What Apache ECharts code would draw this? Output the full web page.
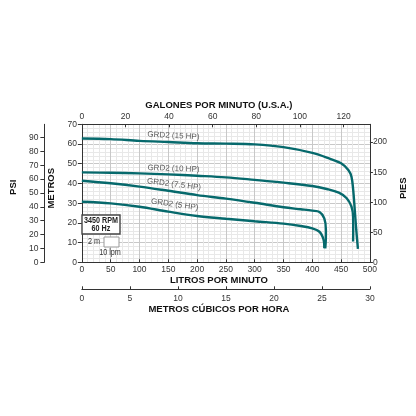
<!DOCTYPE html>
<html>
<head>
<meta charset="utf-8">
<script src="https://cdn.jsdelivr.net/npm/echarts@6/dist/echarts.min.js"></script>
<style>
  html, body { margin: 0; padding: 0; background: #fff; }
  #main { width: 416px; height: 416px; }
</style>
</head>
<body>
<div id="main"></div>
<script>
// curves: [litros por minuto, metros]
const hp15 = [[0,62.8],[50,62.5],[100,61.6],[150,61],[200,60.4],[250,60.2],[300,59.8],[350,58.4],[400,55.5],[430,52.6],[450,50.2],[462.5,46.8],[468,43.4],[471,36.6],[473.7,26.5],[476.3,16.4],[479.2,6.8]];
const hp10 = [[0,45.6],[50,45.4],[100,45.1],[150,44.6],[200,43.9],[250,43.1],[300,41.8],[350,40.4],[400,38.7],[425,37.2],[446,35.3],[459.7,32.5],[468,28.2],[470.8,23],[471,16],[470.8,10.5]];
const hp75 = [[0,41.4],[50,40.1],[100,38.4],[150,36.3],[200,34.1],[250,32.3],[300,30.2],[350,27.9],[380,26.9],[400,26.2],[412.5,25.5],[420.8,22.3],[423.6,16.4],[423.5,12],[422.5,7.1]];
const hp5 = [[0,30.7],[50,29.9],[100,28.2],[150,25.7],[200,23.5],[250,22.1],[300,20.8],[350,19.6],[380,18.4],[400,17.2],[412.5,15.5],[418.5,12.5],[420.5,10],[420.8,7.1]];

const curveNames = ['GRD2 (15 HP)', 'GRD2 (10 HP)', 'GRD2 (7.5 HP)', 'GRD2 (5 HP)'];
// label anchors: [lpm, m, rotation deg]
const labelPos = [[159,64.2,-3],[159,47.5,-2],[160,39.5,-7],[161,29.3,-8]];

const lpmMax = 500, mMax = 70;
const gpmMax = lpmMax / 3.78541;
const m3hMax = 30;
const ftMax = mMax / 0.3048;
const psiMax = mMax * 1.42197;

const teal = '#06696c';
const font = '"Liberation Sans", Arial, sans-serif';
const txt = '#333';

const myChart = echarts.init(document.getElementById('main'));

const lbl = (extra) => Object.assign({ color: txt, fontSize: 8.5, fontFamily: font }, extra);
const nameStyle = (extra) => Object.assign({ color: '#111', fontSize: 9.5, fontWeight: 'bold', fontFamily: font }, extra);
const axLine = { show: true, onZero: false, lineStyle: { color: '#333', width: 1 } };

const option = {
  animation: false,
  grid: { left: 72.5, top: 124.3, width: 300, height: 138 },
  xAxis: [
    {
      type: 'value', position: 'bottom', min: 0, max: lpmMax, interval: 50,
      name: 'LITROS POR MINUTO', nameLocation: 'middle', nameGap: 11,
      nameTextStyle: nameStyle({ padding: [0, 14, 0, 0] }),
      axisLine: axLine,
      axisTick: { show: true, inside: true, length: 3, lineStyle: { color: '#333' } },
      axisLabel: lbl({ margin: 3 }),
      splitLine: { show: true, lineStyle: { color: '#c8c8c8', width: 1 } },
      minorTick: { show: false, splitNumber: 5 },
      minorSplitLine: { show: true, lineStyle: { color: '#e8e8e8', width: 1 } }
    },
    {
      type: 'value', position: 'top', min: 0, max: gpmMax, interval: 20,
      name: 'GALONES POR MINUTO (U.S.A.)', nameLocation: 'middle', nameGap: 14,
      nameTextStyle: nameStyle({ padding: [0, 14, 0, 0] }),
      axisLine: axLine,
      axisTick: { show: true, inside: true, length: 3, lineStyle: { color: '#333' } },
      axisLabel: lbl({ margin: 3, showMaxLabel: false }),
      splitLine: { show: false }
    },
    {
      type: 'value', position: 'bottom', offset: 27, min: 0, max: m3hMax, interval: 5,
      name: 'METROS CÚBICOS POR HORA', nameLocation: 'middle', nameGap: 13,
      nameTextStyle: nameStyle({ padding: [0, 14, 0, 0] }),
      axisLine: axLine,
      axisTick: { show: true, inside: true, length: 3, lineStyle: { color: '#333' } },
      axisLabel: lbl({ margin: 5 }),
      splitLine: { show: false }
    }
  ],
  yAxis: [
    {
      type: 'value', position: 'left', min: 0, max: mMax, interval: 10,
      name: 'METROS', nameLocation: 'middle', nameGap: 16, nameRotate: 90,
      nameTextStyle: nameStyle({ padding: [0, 0, 0, 10] }),
      axisLine: axLine,
      axisTick: { show: true, inside: false, length: 4, lineStyle: { color: '#333' } },
      axisLabel: lbl({ margin: 5 }),
      splitLine: { show: true, lineStyle: { color: '#c8c8c8', width: 1 } },
      minorTick: { show: false, splitNumber: 5 },
      minorSplitLine: { show: true, lineStyle: { color: '#e8e8e8', width: 1 } }
    },
    {
      type: 'value', position: 'right', min: 0, max: ftMax, interval: 50,
      name: 'PIES', nameLocation: 'middle', nameGap: 23, nameRotate: 90,
      nameTextStyle: nameStyle({ padding: [0, 0, 0, 10] }),
      axisLine: axLine,
      axisTick: { show: true, inside: false, length: 3, lineStyle: { color: '#333' } },
      axisLabel: lbl({ margin: 3, showMaxLabel: false }),
      splitLine: { show: false }
    },
    {
      type: 'value', position: 'left', offset: 37.5, min: 0, max: psiMax, interval: 10,
      name: 'PSI', nameLocation: 'middle', nameGap: 18, nameRotate: 90,
      nameTextStyle: nameStyle({ padding: [0, 0, 0, 12] }),
      axisLine: axLine,
      axisTick: { show: true, inside: false, length: 4, lineStyle: { color: '#333' } },
      axisLabel: lbl({ margin: 6, showMaxLabel: false }),
      splitLine: { show: false }
    }
  ],
  series: [hp15, hp10, hp75, hp5].map((d, i) => ({
    name: curveNames[i],
    type: 'line',
    xAxisIndex: 0, yAxisIndex: 0,
    data: d,
    smooth: 0.35,
    showSymbol: false,
    lineStyle: { color: teal, width: 2.4 },
    z: 3
  })).concat([{
    type: 'scatter',
    xAxisIndex: 0, yAxisIndex: 0,
    symbolSize: 0,
    silent: true,
    data: labelPos.map((p, i) => ({
      value: [p[0], p[1]],
      label: {
        show: true, position: 'inside', formatter: curveNames[i],
        rotate: p[2], color: txt, fontSize: 8, fontFamily: font
      }
    })),
    z: 4
  }]),
  graphic: [
    { type: 'rect', shape: { x: 82, y: 215, width: 38, height: 19 },
      style: { fill: '#fff', stroke: '#444', lineWidth: 1.4 }, z: 10 },
    { type: 'text', x: 101, y: 220.5, scaleX: 0.8,
      style: { text: '3450 RPM', fill: '#222', font: 'bold 9px ' + font, textAlign: 'center', textVerticalAlign: 'middle' }, z: 11 },
    { type: 'text', x: 101, y: 229, scaleX: 0.8,
      style: { text: '60 Hz', fill: '#222', font: 'bold 9px ' + font, textAlign: 'center', textVerticalAlign: 'middle' }, z: 11 },
    { type: 'rect', shape: { x: 104, y: 237, width: 15, height: 10 },
      style: { fill: '#fff', stroke: '#999', lineWidth: 1 }, z: 10 },
    { type: 'text', x: 100, y: 242, scaleX: 0.85,
      style: { text: '2 m', fill: txt, font: '8.5px ' + font, textAlign: 'right', textVerticalAlign: 'middle' }, z: 11 },
    { type: 'text', x: 110, y: 252.5, scaleX: 0.85,
      style: { text: '10 lpm', fill: txt, font: '8.5px ' + font, textAlign: 'center', textVerticalAlign: 'middle' }, z: 11 }
  ]
};

myChart.setOption(option);
</script>
</body>
</html>
